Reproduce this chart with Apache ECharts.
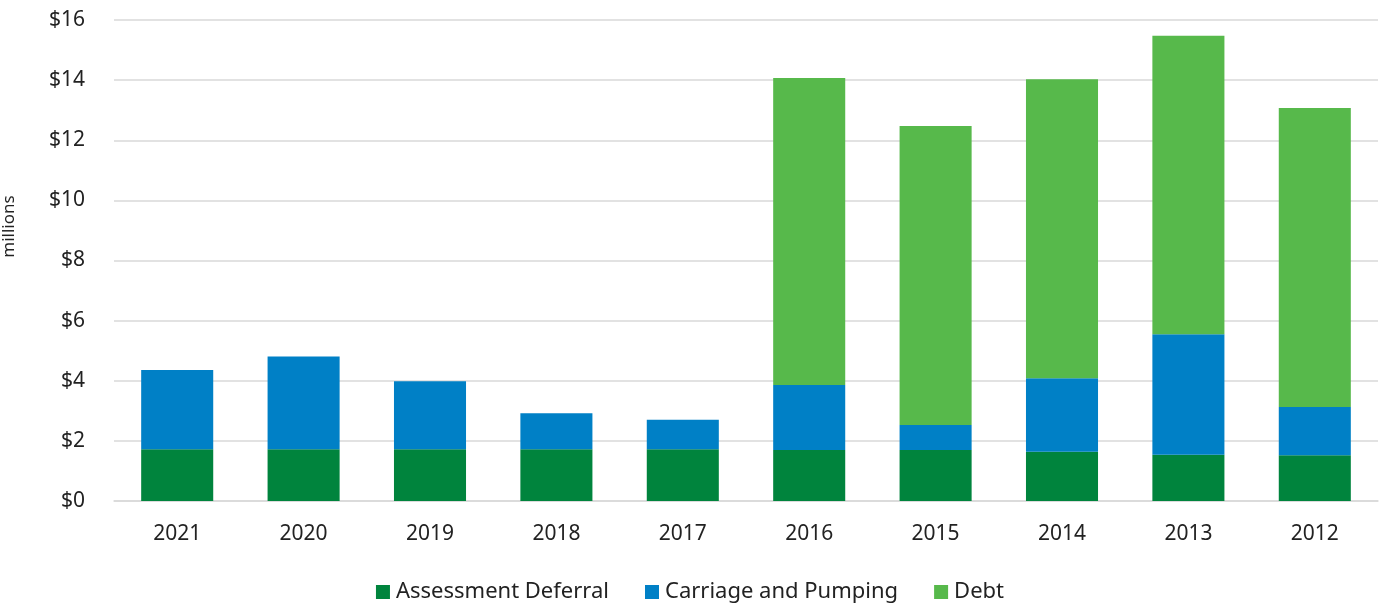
<!DOCTYPE html>
<html>
<head>
<meta charset="utf-8">
<script src="https://cdn.jsdelivr.net/npm/echarts@6/dist/echarts.min.js"></script>
<style>
  html, body { margin: 0; padding: 0; background: #fff; }
  #chart { width: 1380px; height: 605px; }
</style>
</head>
<body>
<div id="chart"></div>
<script>
// 数据
const years = ['2021', '2020', '2019', '2018', '2017', '2016', '2015', '2014', '2013', '2012'];
const assessmentDeferral = [1.72, 1.72, 1.72, 1.72, 1.72, 1.70, 1.70, 1.64, 1.54, 1.52];
const carriagePumping = [2.64, 3.09, 2.26, 1.20, 0.98, 2.16, 0.83, 2.44, 4.01, 1.61];
const debt = [0, 0, 0, 0, 0, 10.21, 9.94, 9.95, 9.93, 9.94];

const font = 'Noto Sans';
const chart = echarts.init(document.getElementById('chart'));

function barSeries(name, data, color) {
  return {
    name: name,
    type: 'bar',
    stack: 'total',
    barWidth: '57%',
    itemStyle: { color: color },
    data: data
  };
}

const option = {
  animation: false,
  textStyle: { fontFamily: font },
  grid: { left: 114, right: 2, top: 20, bottom: 104, outerBoundsMode: 'none' },
  legend: {
    bottom: -3,
    left: 'center',
    itemWidth: 14,
    itemHeight: 14,
    itemGap: 36,
    icon: 'rect',
    textStyle: { fontSize: 22, color: '#222', fontFamily: font, padding: [0, 0, 0, 1] },
    data: ['Assessment Deferral', 'Carriage and Pumping', 'Debt']
  },
  xAxis: {
    type: 'category',
    data: years,
    axisLine: { lineStyle: { color: '#d9d9d9', width: 1.5 } },
    axisTick: { show: false },
    axisLabel: { fontSize: 21, color: '#222', margin: 23 }
  },
  yAxis: {
    type: 'value',
    min: 0,
    max: 16,
    interval: 2,
    name: 'millions',
    nameLocation: 'middle',
    nameGap: 96,
    nameTextStyle: { fontSize: 17, color: '#222', padding: [0, 0, 0, 68] },
    axisLine: { show: false },
    axisTick: { show: false },
    axisLabel: { fontSize: 21, color: '#222', margin: 29, formatter: v => '$' + v },
    splitLine: { lineStyle: { color: '#d9d9d9', width: 1.5 } }
  },
  series: [
    barSeries('Assessment Deferral', assessmentDeferral, '#00843d'),
    barSeries('Carriage and Pumping', carriagePumping, '#0080c6'),
    barSeries('Debt', debt, '#57b94b')
  ]
};

chart.setOption(option);
</script>
</body>
</html>
